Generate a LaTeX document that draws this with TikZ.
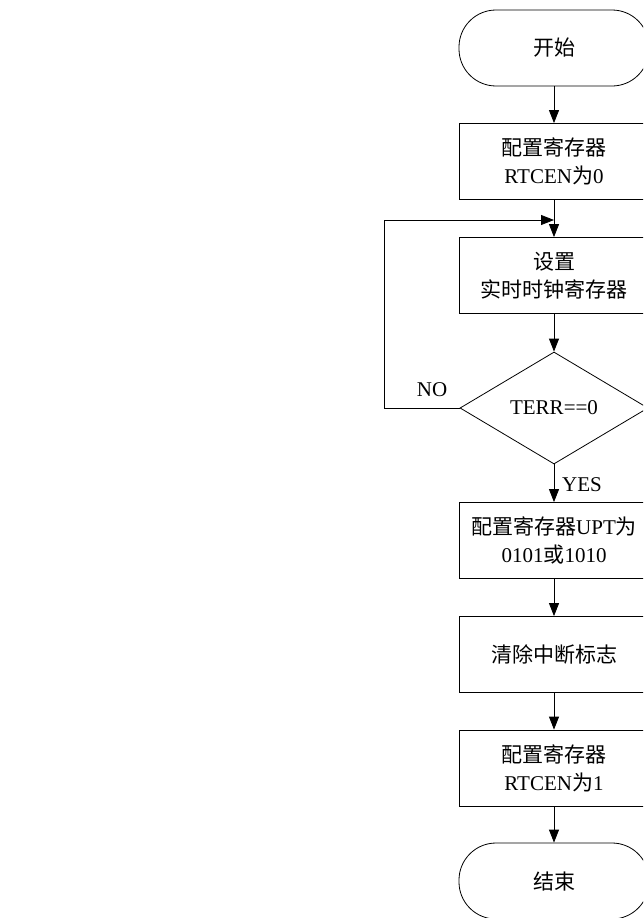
\documentclass[tikz,border=0pt]{standalone}
\usepackage{fontspec}
\setmainfont{Liberation Serif}
\newfontfamily\cjk{Noto Sans CJK SC}
\newcommand{\zh}[1]{{\cjk #1}}
\usetikzlibrary{arrows.meta,shapes.geometric}
\tikzset{
  every node/.style={font=\fontsize{21}{28}\selectfont},
  proc/.style={draw, line width=0.8pt, rectangle, minimum width=190pt, minimum height=76pt, align=center, inner sep=0pt},
  term/.style={draw, line width=0.8pt, rectangle, rounded corners=37pt, minimum width=190pt, minimum height=76pt, align=center, inner sep=0pt},
  dec/.style={draw, line width=0.8pt, diamond, minimum width=188pt, minimum height=112pt, inner sep=0pt, align=center},
  flow/.style={line width=0.8pt, -{Triangle[length=13pt,width=10pt]}},
  lbl/.style={inner sep=0pt}
}
\begin{document}
\begin{tikzpicture}[x=1pt,y=-1pt]
\useasboundingbox (0,0) rectangle (643,918);
\clip (0,0) rectangle (643,918);
\node[term] (start) at (554,48) {\zh{开始}};
\node[proc] (b1) at (554,161.5) {\zh{配置寄存器}\\RTCEN\zh{为}0};
\node[proc] (b2) at (554,275.5) {\zh{设置}\\\zh{实时时钟寄存器}};
\node[dec] (d) at (554,408) {TERR==0};
\node[proc] (b3) at (554,540.5) {\zh{配置寄存器}UPT\zh{为}\\0101\zh{或}1010};
\node[proc] (b4) at (554,654.5) {\zh{清除中断标志}};
\node[proc] (b5) at (554,768) {\zh{配置寄存器}\\RTCEN\zh{为}1};
\node[term] (end) at (554,881) {\zh{结束}};
\coordinate (j) at (554,220);
\coordinate (lp) at (384,408);
\draw[flow] (start) -- (b1);
\draw[flow] (b1) -- (b2);
\draw[flow] (b2) -- (d);
\draw[flow] (d) -- (b3);
\draw[flow] (b3) -- (b4);
\draw[flow] (b4) -- (b5);
\draw[flow] (b5) -- (end);
\draw[flow] (d.west) -- (lp) |- (j);
\node[lbl] (no) at (432,390) {NO};
\node[lbl, anchor=west] (yes) at (562,485) {YES};
\end{tikzpicture}
\end{document}
